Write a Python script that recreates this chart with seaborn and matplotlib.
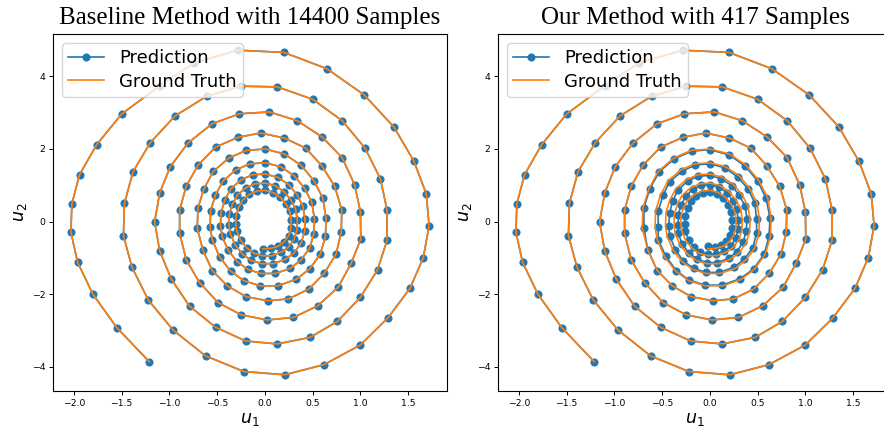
import matplotlib
matplotlib.use("Agg")
import matplotlib.pyplot as plt
import seaborn as sns

# Damped pendulum trajectory in the (u1, u2) phase plane, one entry per time step
u1_truth = [
    -1.21, -1.55, -1.80, -1.96, -2.03, -2.02, -1.94, -1.76, -1.50, -1.10,
    -0.74, -0.28, 0.20, 0.65, 1.04, 1.35, 1.56, 1.69, 1.72, 1.66,
    1.52, 1.29, 1.00, 0.62, 0.21, -0.22, -0.62, -0.96, -1.22, -1.39,
    -1.48, -1.47, -1.38, -1.20, -0.94, -0.61, -0.25, 0.13, 0.50, 0.81,
    1.05, 1.21, 1.28, 1.28, 1.18, 1.00, 0.76, 0.475, 0.13, -0.20,
    -0.516, -0.788, -0.98, -1.10, -1.154, -1.10, -0.99, -0.805, -0.555, -0.265,
    0.049, 0.339, 0.60, 0.81, 0.941, 1.001, 1.005, 0.904, 0.77, 0.555,
    0.30, 0.025, -0.247, -0.49, -0.683, -0.822, -0.892, -0.892, -0.822, -0.697,
    -0.516, -0.282, -0.045, 0.206, 0.43, 0.596, 0.732, 0.806, 0.80, 0.747,
    0.624, 0.46, 0.248, 0.031, -0.195, -0.393, -0.55, -0.649,
    -0.707, -0.70, -0.638, -0.54, -0.377, -0.195, 0.004, 0.206, 0.38, 0.513, 0.607,
    0.642, 0.635, 0.58, 0.468, 0.328, 0.136, -0.048, -0.22, -0.359, -0.474, -0.55,
    -0.573, -0.567, -0.517, -0.437, -0.305, -0.158, 0.003, 0.167, 0.308, 0.416, 0.492,
    0.52, 0.514, 0.47, 0.379, 0.266, 0.11, -0.039, -0.178, -0.291, -0.384, -0.446,
    -0.464, -0.459, -0.419, -0.354, -0.247, -0.128, 0.003, 0.135, 0.249, 0.337, 0.398,
    0.421, 0.417, 0.38, 0.307, 0.215, 0.089, -0.031, -0.144, -0.236, -0.311, -0.361,
    -0.375, -0.372, -0.339, -0.287, -0.200, -0.104, 0.002, 0.109, 0.202, 0.272, 0.322,
    0.341, 0.337, 0.308, 0.249, 0.174, 0.072, -0.025, -0.117, -0.191, -0.252, -0.292,
    -0.304, -0.301, -0.274, -0.232, -0.162, -0.084, 0.002, 0.089, 0.163, 0.221, 0.261,
    0.276, 0.273, 0.249, 0.201, 0.141, 0.06, -0.02,
]
u2_truth = [
    -3.86, -2.92, -2.00, -1.12, -0.29, 0.49, 1.29, 2.12, 2.96, 3.74,
    4.37, 4.72, 4.66, 4.21, 3.49, 2.61, 1.67, 0.77, -0.11, -0.99,
    -1.84, -2.65, -3.40, -3.94, -4.22, -4.13, -3.70, -2.99, -2.16, -1.26,
    -0.39, 0.50, 1.37, 2.17, 2.91, 3.45, 3.73, 3.71, 3.37, 2.78,
    2.02, 1.18, 0.32, -0.52, -1.33, -2.09, -2.75, -3.19, -3.37, -3.29,
    -2.91, -2.33, -1.58, -0.81, -0.01, 0.79, 1.51, 2.16, 2.69, 2.97,
    3.02, 2.78, 2.33, 1.76, 1.01, 0.27, -0.48, -1.15, -1.80, -2.32,
    -2.64, -2.71, -2.57, -2.23, -1.68, -1.06, -0.32, 0.32, 0.98, 1.56,
    2.05, 2.32, 2.44, 2.30, 2.02, 1.54, 0.97, 0.32, -0.29, -0.89,
    -1.42, -1.86, -2.13, -2.18, -2.07, -1.77, -1.35, -0.78,
    -0.18, 0.37, 0.90, 1.38, 1.75, 1.96, 2.00, 1.86, 1.55, 1.13, 0.65,
    0.09, -0.41, -0.90, -1.31, -1.59, -1.77, -1.77, -1.63, -1.36, -0.97, -0.50,
    -0.15, 0.30, 0.73, 1.12, 1.42, 1.59, 1.62, 1.51, 1.26, 0.92, 0.53,
    0.07, -0.33, -0.73, -1.06, -1.29, -1.43, -1.43, -1.32, -1.10, -0.79, -0.41,
    -0.12, 0.24, 0.59, 0.91, 1.15, 1.29, 1.31, 1.22, 1.02, 0.74, 0.43,
    0.06, -0.27, -0.59, -0.86, -1.04, -1.16, -1.16, -1.07, -0.89, -0.64, -0.33,
    -0.10, 0.20, 0.48, 0.73, 0.93, 1.04, 1.06, 0.99, 0.82, 0.60, 0.35,
    0.05, -0.22, -0.48, -0.70, -0.84, -0.94, -0.94, -0.87, -0.72, -0.52, -0.27,
    -0.08, 0.16, 0.39, 0.59, 0.75, 0.84, 0.86, 0.80, 0.67, 0.49, 0.28,
    0.04, -0.18, -0.39, -0.56, -0.68, -0.74, -0.75,
]

# Baseline prediction follows the reference trajectory throughout
u1_baseline = list(u1_truth)
u2_baseline = list(u2_truth)

# Our method: identical for the first four loops, then drifts slightly inward
n_shared = 98
u1_ours_tail = [
    -0.69, -0.69, -0.63, -0.53, -0.37, -0.19, 0.00, 0.20, 0.37, 0.50, 0.59,
    0.63, 0.62, 0.57, 0.46, 0.32, 0.13, -0.05, -0.22, -0.35, -0.46, -0.54,
    -0.54, -0.54, -0.49, -0.42, -0.29, -0.15, 0.00, 0.16, 0.29, 0.40, 0.47,
    0.49, 0.49, 0.45, 0.36, 0.25, 0.10, -0.04, -0.17, -0.28, -0.36, -0.42,
    -0.43, -0.42, -0.39, -0.33, -0.23, -0.12, 0.00, 0.12, 0.23, 0.31, 0.37,
    0.39, 0.38, 0.35, 0.28, 0.20, 0.08, -0.03, -0.13, -0.22, -0.29, -0.33,
    -0.33, -0.33, -0.30, -0.25, -0.18, -0.09, 0.00, 0.10, 0.18, 0.24, 0.28,
    0.30, 0.30, 0.27, 0.22, 0.15, 0.06, -0.02, -0.10, -0.17, -0.22, -0.26,
    -0.26, -0.26, -0.23, -0.20, -0.14, -0.07, 0.00, 0.08, 0.14, 0.19, 0.22,
    0.23, 0.23, 0.21, 0.17, 0.12, 0.05, -0.02,
]
u2_ours_tail = [
    -0.18, 0.37, 0.89, 1.37, 1.73, 1.94, 1.98, 1.84, 1.53, 1.12, 0.64,
    0.09, -0.41, -0.89, -1.30, -1.57, -1.75, -1.75, -1.61, -1.35, -0.96, -0.50,
    -0.15, 0.29, 0.72, 1.10, 1.39, 1.56, 1.59, 1.48, 1.23, 0.90, 0.52,
    0.07, -0.32, -0.72, -1.04, -1.26, -1.40, -1.40, -1.29, -1.08, -0.77, -0.40,
    -0.12, 0.23, 0.57, 0.88, 1.12, 1.25, 1.27, 1.18, 0.99, 0.72, 0.42,
    0.06, -0.26, -0.57, -0.83, -1.01, -1.13, -1.13, -1.04, -0.86, -0.62, -0.32,
    -0.10, 0.19, 0.46, 0.70, 0.89, 1.00, 1.02, 0.95, 0.79, 0.58, 0.34,
    0.05, -0.21, -0.46, -0.67, -0.81, -0.90, -0.90, -0.84, -0.69, -0.50, -0.26,
    -0.08, 0.15, 0.37, 0.56, 0.71, 0.80, 0.82, 0.76, 0.64, 0.47, 0.27,
    0.04, -0.17, -0.37, -0.53, -0.65, -0.70, -0.66,
]
u1_ours = u1_truth[:n_shared] + u1_ours_tail
u2_ours = u2_truth[:n_shared] + u2_ours_tail

titles = ["Baseline Method with 14400 Samples", "Our Method with 417 Samples"]
x_ticks = [-2.0, -1.5, -1.0, -0.5, 0.0, 0.5, 1.0, 1.5]
y_ticks = [-4, -2, 0, 2, 4]

BLUE = "#1f77b4"
ORANGE = "#ff7f0e"

plt.rcParams["font.family"] = ["DejaVu Sans"]
plt.rcParams["mathtext.fontset"] = "dejavusans"

W, H = 884, 433
fig = plt.figure(figsize=(W / 100, H / 100), dpi=100)


def add_axes_px(left, top, right, bottom):
    return fig.add_axes([left / W, 1 - bottom / H, (right - left) / W, (bottom - top) / H])


panels = [
    (add_axes_px(53, 34, 447, 391), u1_baseline, u2_baseline, titles[0]),
    (add_axes_px(498, 34, 892, 391), u1_ours, u2_ours, titles[1]),
]

for ax, pu1, pu2, title in panels:
    sns.lineplot(x=pu1, y=pu2, sort=False, estimator=None, ax=ax,
                 color=BLUE, lw=1.2, marker="o", markersize=5.2,
                 markeredgecolor=BLUE, markeredgewidth=0.6, label="Prediction")
    sns.lineplot(x=u1_truth, y=u2_truth, sort=False, estimator=None, ax=ax,
                 color=ORANGE, lw=1.2, label="Ground Truth")
    ax.set_xticks(x_ticks)
    ax.set_yticks(y_ticks)
    ax.tick_params(labelsize=6.7, length=3, width=0.7, pad=2.5)
    ax.set_xlabel(r"$u_1$", fontsize=12.5, labelpad=2)
    ax.set_ylabel(r"$u_2$", fontsize=12.5, labelpad=2)
    ax.legend(loc="upper left", fontsize=13, borderaxespad=0.5,
              handlelength=2.0, labelspacing=0.3, borderpad=0.35)
    for s in ax.spines.values():
        s.set_linewidth(0.8)
    pos = ax.get_position()
    fig.text(pos.x0 + pos.width / 2, 1 - 24 / H, title, ha="center", va="baseline",
             fontsize=18, family=["Liberation Serif", "DejaVu Serif"])

fig.savefig("out.png", dpi=100)
